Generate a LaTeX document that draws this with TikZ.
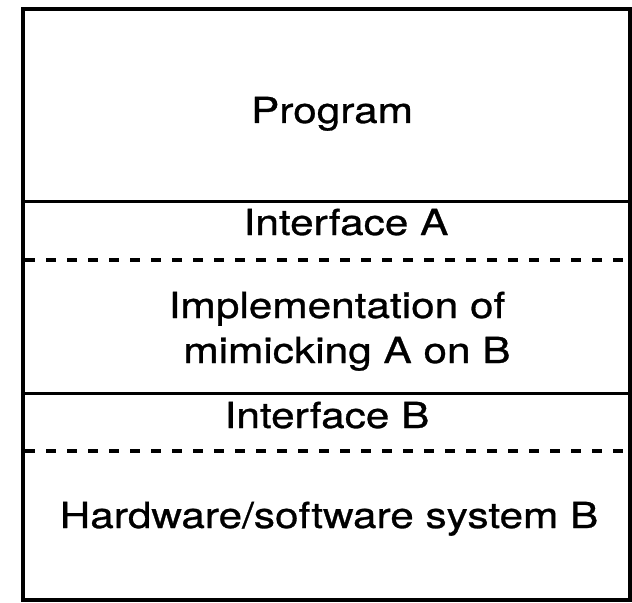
\documentclass[tikz,border=0pt]{standalone}
\usepackage{fontspec}
\setmainfont[FakeStretch=1.18,FakeBold=0.8]{TeX Gyre Heros}
\begin{document}
\begin{tikzpicture}[x=1bp,y=-1bp,
  frame/.style={line width=4bp},
  divider/.style={line width=3bp},
  softdivider/.style={line width=3.4bp, dash pattern=on 10bp off 11bp},
  layertext/.style={anchor=base, inner sep=0pt, font=\fontsize{36}{45}\selectfont}]
\useasboundingbox (0,0) rectangle (632,603);

% outer frame corners
\coordinate (tl) at (23,9);
\coordinate (br) at (630,600);
\draw[frame] (tl) rectangle (br);

% layer boundaries
\coordinate (s1l) at (23,201);  \coordinate (s1r) at (630,201);
\coordinate (d1l) at (25,260);  \coordinate (d1r) at (630,260);
\coordinate (s2l) at (23,393);  \coordinate (s2r) at (630,393);
\coordinate (d2l) at (25,451);  \coordinate (d2r) at (630,451);
\draw[divider] (s1l) -- (s1r);
\draw[softdivider] (d1l) -- (d1r);
\draw[divider] (s2l) -- (s2r);
\draw[softdivider] (d2l) -- (d2r);

% layer labels
\node[layertext] (prog)  at (332,123) {Program};
\node[layertext] (ifa)   at (346,235) {Interface A};
\node[layertext] (impl1) at (337,318) {Implementation of};
\node[layertext] (impl2) at (347,363) {mimicking A on B};
\node[layertext] (ifb)   at (327,428) {Interface B};
\node[layertext] (hw)    at (329,528) {Hardware/software system B};
\end{tikzpicture}
\end{document}
